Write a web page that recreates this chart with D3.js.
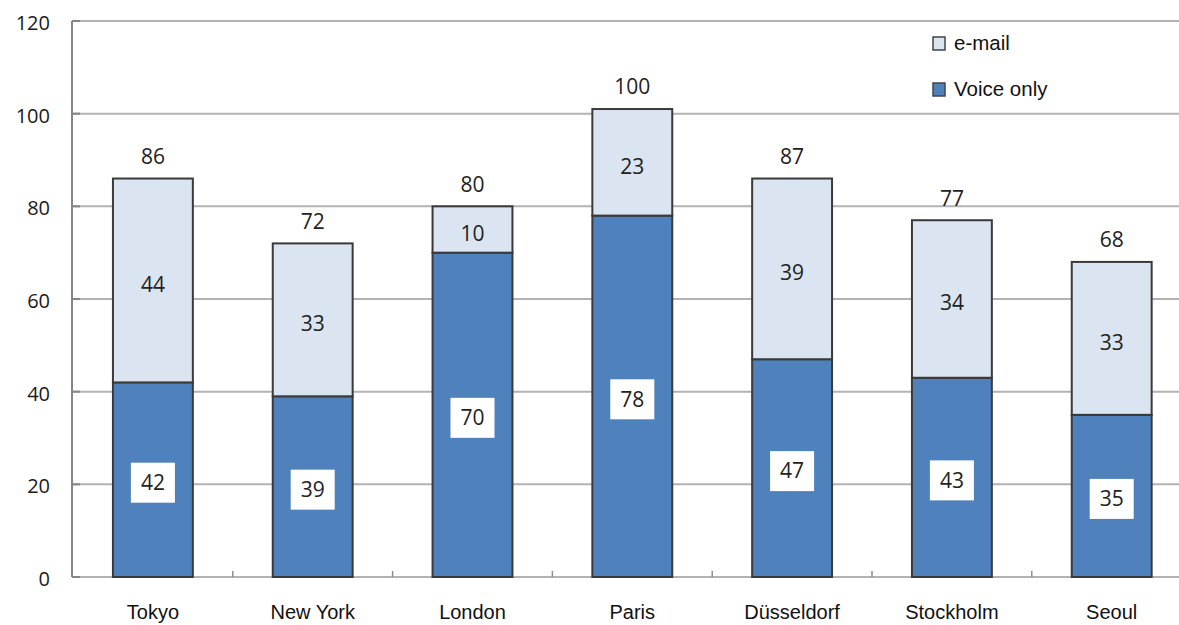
<!DOCTYPE html>
<html><head><meta charset="utf-8">
<script src="https://cdn.jsdelivr.net/npm/d3@7"></script>
<style>body{margin:0;background:#fff}svg{display:block}</style>
</head><body>
<script>
const categories = ["Tokyo","New York","London","Paris","Düsseldorf","Stockholm","Seoul"];
const voiceOnly = [42,39,70,78,47,43,35];
const email = [44,33,10,23,39,34,33];
const totals = [86,72,80,100,87,77,68];
const yTicks = [0,20,40,60,80,100,120];
const seriesNames = ["e-mail","Voice only"];

const W = 1179, H = 625;
const svg = d3.select("body").append("svg").attr("width",W).attr("height",H);
const x = d3.scaleBand().domain(categories).range([73, 73 + 7*159.8]).paddingInner(0.5).paddingOuter(0.25);
const y = d3.scaleLinear().domain([0,120]).range([577,21]);
const numFont = "'Open Sans', sans-serif";
const txtFont = "'Liberation Sans', Arial, sans-serif";

// gridlines
svg.append("g").selectAll("line").data(yTicks).join("line")
  .attr("x1",72).attr("x2",W).attr("y1",d=>y(d)).attr("y2",d=>y(d))
  .attr("stroke","#b3b3b3").attr("stroke-width",2);
// y axis line
svg.append("line").attr("x1",72).attr("x2",72).attr("y1",y(120)).attr("y2",y(0)).attr("stroke","#858585").attr("stroke-width",2);
// y tick marks
svg.append("g").selectAll("line").data(yTicks).join("line")
  .attr("x1",72).attr("x2",80).attr("y1",d=>y(d)).attr("y2",d=>y(d)).attr("stroke","#858585").attr("stroke-width",2);
// y labels
svg.append("g").selectAll("text").data(yTicks).join("text")
  .attr("x",50).attr("y",d=>y(d)+2).attr("dy","0.35em").attr("text-anchor","end")
  .attr("font-family",numFont).attr("font-size",20).attr("fill","#1a1a1a").text(d=>d);
// x category boundary ticks
const gap = (x.step() - x.bandwidth())/2;
svg.append("g").selectAll("line").data(categories.slice(1)).join("line")
  .attr("x1",d=>x(d)-gap).attr("x2",d=>x(d)-gap)
  .attr("y1",y(0)).attr("y2",y(0)-6).attr("stroke","#8c8c8c").attr("stroke-width",1.5);

const stack = d3.stack().keys(["voice","email"])(categories.map((c,i)=>({cat:c,voice:voiceOnly[i],email:email[i]})));
const colors = {voice:"#4f81bd", email:"#dbe5f1"};
stack.forEach(s=>{
  svg.append("g").selectAll("rect").data(s).join("rect")
    .attr("x",d=>x(d.data.cat)).attr("width",x.bandwidth())
    .attr("y",d=>y(d[1])).attr("height",d=>y(d[0])-y(d[1]))
    .attr("fill",colors[s.key]).attr("stroke","#3a3a3a").attr("stroke-width",2);
});

// email labels
svg.append("g").selectAll("text").data(stack[1]).join("text")
  .attr("x",d=>x(d.data.cat)+x.bandwidth()/2).attr("y",d=>(y(d[0])+y(d[1]))/2+4).attr("dy","0.35em")
  .attr("text-anchor","middle").attr("font-family",numFont).attr("font-size",21).attr("fill","#222").text(d=>d.data.email);
// voice label boxes
const vg = svg.append("g").selectAll("g").data(stack[0]).join("g")
  .attr("transform",d=>`translate(${x(d.data.cat)+x.bandwidth()/2},${(y(d[0])+y(d[1]))/2+3})`);
vg.append("rect").attr("x",-22).attr("y",-20).attr("width",44).attr("height",40).attr("fill","#fff");
vg.append("text").attr("dy","0.35em").attr("text-anchor","middle").attr("font-family",numFont).attr("font-size",21).attr("fill","#222").text(d=>d.data.voice);
// totals
svg.append("g").selectAll("text").data(stack[1]).join("text")
  .attr("x",d=>x(d.data.cat)+x.bandwidth()/2).attr("y",(d,i)=>y(d[1])-22).attr("dy","0.35em")
  .attr("text-anchor","middle").attr("font-family",numFont).attr("font-size",21).attr("fill","#222").text((d,i)=>totals[i]);

// x labels
svg.append("g").selectAll("text").data(categories).join("text")
  .attr("x",d=>x(d)+x.bandwidth()/2).attr("y",619).attr("text-anchor","middle")
  .attr("font-family",txtFont).attr("font-size",20).attr("fill","#111").text(d=>d);

// legend
const lg = svg.append("g").selectAll("g").data(seriesNames).join("g")
  .attr("transform",(d,i)=>`translate(933,${43+i*46})`);
lg.append("rect").attr("x",0).attr("y",-6).attr("width",12).attr("height",13)
  .attr("fill",(d,i)=>i===0?colors.email:colors.voice).attr("stroke","#444").attr("stroke-width",1.5);
lg.append("text").attr("x",21).attr("dy","0.35em").attr("font-family",txtFont)
  .attr("font-size",20.5).attr("fill","#111").text(d=>d);
</script>
</body></html>
